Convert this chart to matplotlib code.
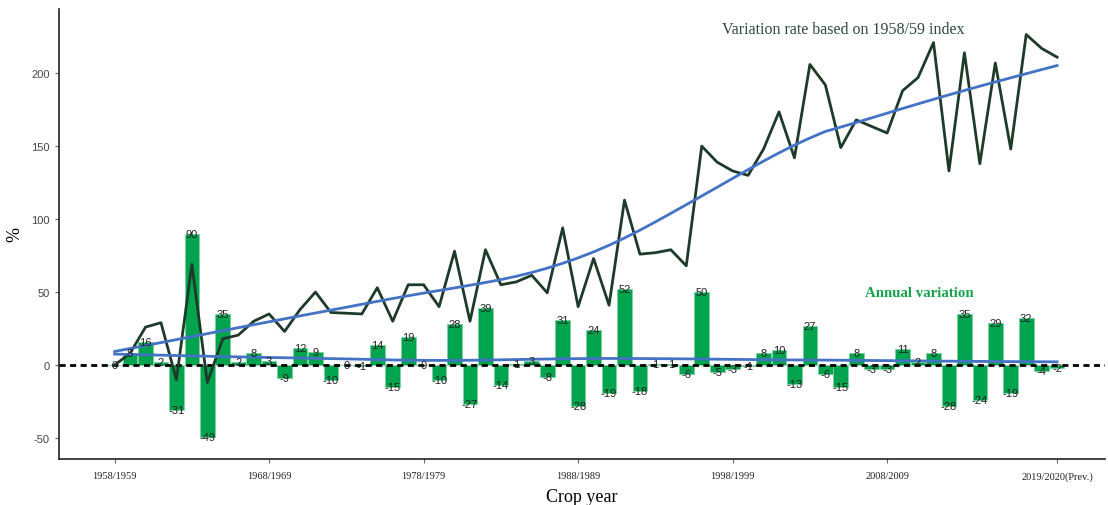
import numpy as np
import matplotlib
matplotlib.use("Agg")
import matplotlib.pyplot as plt

years = list(range(1958, 2020))
index_rate = [0, 8, 26, 29, -10, 69, -12, 18, 20.5, 30, 35, 23,
              38, 50, 36, 35.5, 35, 53, 30, 55, 55, 40,
              78, 30, 79, 55, 57, 61.5, 49.5, 94, 40, 73,
              41, 113, 76, 77, 79, 68, 150, 139, 133, 130,
              148, 173.5, 142, 206, 192, 149, 168, 163.5, 159, 188,
              197, 221, 133, 214, 138, 207, 148, 226.5, 217, 211]
annual_var = [0, 8, 16, 2, -31, 90, -49, 35, 2, 8, 3, -9,
              12, 9, -10, 0, -1, 14, -15, 19, 0, -10,
              28, -27, 39, -14, 1, 3, -8, 31, -28, 24,
              -19, 52, -18, 1, 1, -6, 50, -5, -3, -1,
              8, 10, -13, 27, -6, -15, 8, -3, -3, 11,
              2, 8, -28, 35, -24, 29, -19, 32, -4, -2]
tick_years = [1958, 1968, 1978, 1988, 1998, 2008, 2019]
tick_labels = ["1958/1959", "1968/1969", "1978/1979", "1988/1989",
               "1998/1999", "2008/2009", "2019/2020(Prev.)"]


def loess(x, y, frac):
    x = np.asarray(x, float)
    y = np.asarray(y, float)
    n = len(x)
    k = int(np.ceil(frac * n))
    out = np.empty(n)
    for i, x0 in enumerate(x):
        d = np.abs(x - x0)
        h = np.sort(d)[k - 1]
        w = np.clip(1 - (d / h) ** 3, 0, None) ** 3
        W = np.sum(w)
        xm = np.sum(w * x) / W
        ym = np.sum(w * y) / W
        b = np.sum(w * (x - xm) * (y - ym)) / np.sum(w * (x - xm) ** 2)
        out[i] = ym + b * (x0 - xm)
    return out


x = np.array(years)
fig = plt.figure(figsize=(11.08, 5.06), dpi=100)
ax = fig.add_axes([59 / 1108, 46 / 506, 1046 / 1108, 450 / 506])

bar_green = "#00a34e"
ax.bar(x, annual_var, width=0.95, color=bar_green, edgecolor="#7fd19f",
       linewidth=0.6, zorder=2)
ax.axhline(0, color="black", linestyle=(0, (2.2, 1.6)), linewidth=2.0, zorder=3)

ax.plot(x, index_rate, color="#1e3b2a", linewidth=2.0, zorder=4)
ax.plot(x, loess(x, index_rate, 0.5), color="#4472c4", linewidth=2.0, zorder=5)
ax.plot(x, loess(x, annual_var, 0.6), color="#4472c4", linewidth=2.0, zorder=5)

for xi, v in zip(x, annual_var):
    ax.text(xi, v, f"{v:g}", ha="center", va="center", fontsize=8,
            color="#222222", family="Liberation Sans", zorder=6)

ax.set_xlim(1954.4, 2022.1)
ax.set_ylim(-64.4, 244)
ax.set_yticks([-50, 0, 50, 100, 150, 200])
ax.set_yticklabels(["-50", "0", "50", "100", "150", "200"],
                   family="Liberation Sans", fontsize=8, color="#444444")
ax.set_xticks(tick_years)
ax.set_xticklabels(tick_labels, family="Liberation Serif", fontsize=7.5, color="#222222")
ax.tick_params(axis="both", length=3, width=0.8, color="#666666")
ax.tick_params(axis="x", pad=6)
for s in ["top", "right"]:
    ax.spines[s].set_visible(False)
for s in ["left", "bottom"]:
    ax.spines[s].set_linewidth(1.2)
    ax.spines[s].set_color("#222222")

ax.set_xlabel("Crop year", family="Liberation Serif", fontsize=13, labelpad=5)
ax.set_ylabel("%", family="Liberation Serif", fontsize=13)
ax.yaxis.set_label_coords(-36 / 1046, 0.5)

ax.text(1997.3, 230, "Variation rate based on 1958/59 index", family="Liberation Serif",
        fontsize=11.5, color="#2e4a3c", ha="left", va="center")
ax.text(2010.1, 50, "Annual variation", family="Liberation Serif", fontsize=10.7,
        fontweight="bold", color="#16a34a", ha="center", va="center")

fig.savefig("out.png", dpi=100)
